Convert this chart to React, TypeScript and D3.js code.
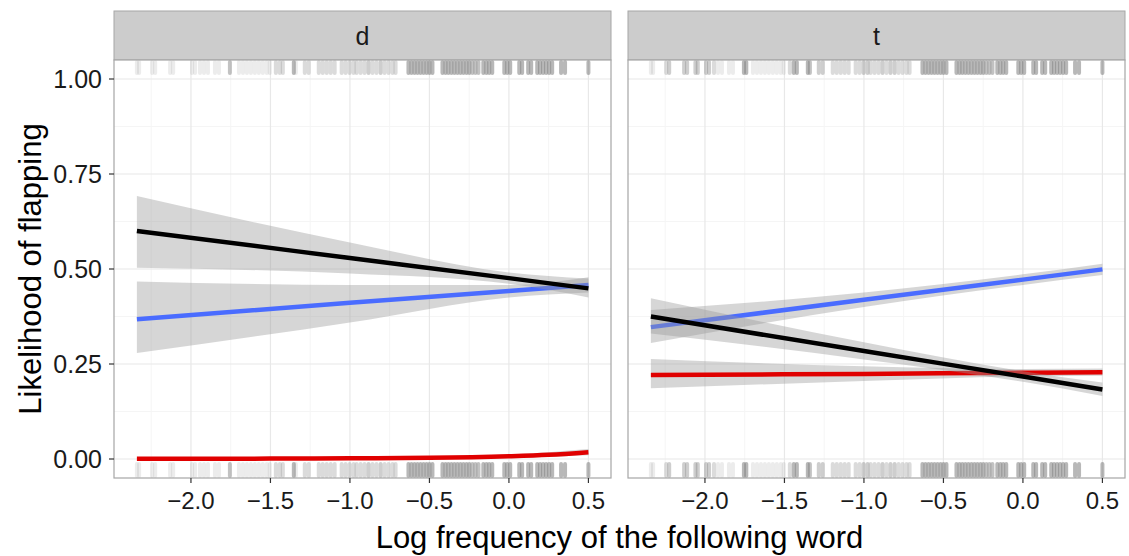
import React from "react";
import * as d3 from "d3";

// Facet panels (following segment)
const facets = ["d", "t"];

// Model predictions sampled along log word frequency
const predX = [-2.34, -1.0, 0.0, 0.5];

const dBlackFit = [0.6, 0.529, 0.476, 0.449];
const dBlackLo = [0.503, 0.488, 0.461, 0.425];
const dBlackHi = [0.692, 0.57, 0.491, 0.475];

const dBlueFit = [0.368, 0.411, 0.442, 0.458];
const dBlueLo = [0.279, 0.359, 0.425, 0.438];
const dBlueHi = [0.467, 0.458, 0.458, 0.478];

const predXRedD = [-2.34, -1.5, -1.0, -0.5, 0.0, 0.25, 0.5];
const dRedFit = [0.0005, 0.001, 0.002, 0.003, 0.007, 0.011, 0.018];
const dRedLo = [0.0, 0.0, 0.001, 0.001, 0.003, 0.006, 0.01];
const dRedHi = [0.002, 0.003, 0.004, 0.006, 0.012, 0.018, 0.026];

const tBlackFit = [0.375, 0.284, 0.217, 0.183];
const tBlackLo = [0.33, 0.262, 0.203, 0.166];
const tBlackHi = [0.423, 0.307, 0.231, 0.201];

const tBlueFit = [0.347, 0.419, 0.472, 0.499];
const tBlueLo = [0.305, 0.4, 0.458, 0.484];
const tBlueHi = [0.392, 0.438, 0.486, 0.514];

const tRedFit = [0.221, 0.224, 0.227, 0.228];
const tRedLo = [0.186, 0.205, 0.217, 0.219];
const tRedHi = [0.263, 0.244, 0.237, 0.238];

// Observed word frequencies (rug) with number of tokens per facet
const rugX = [
  -2.34, -2.326, -2.244, -2.225, -2.131, -2.112, -2.06, -2.045, -1.993, -1.974,
  -1.943, -1.918, -1.893, -1.849, -1.824, -1.755, -1.74, -1.698, -1.673, -1.648,
  -1.623, -1.598, -1.573, -1.548, -1.523, -1.504, -1.466, -1.441, -1.422, -1.353,
  -1.34, -1.284, -1.259, -1.196, -1.171, -1.146, -1.121, -1.096, -1.052, -1.027,
  -1.002, -0.977, -0.958, -0.933, -0.908, -0.883, -0.858, -0.833, -0.807, -0.782,
  -0.757, -0.732, -0.713, -0.632, -0.613, -0.594, -0.575, -0.556, -0.537, -0.518,
  -0.5, -0.481, -0.418, -0.399, -0.381, -0.362, -0.343, -0.324, -0.305, -0.286,
  -0.267, -0.249, -0.23, -0.211, -0.192, -0.161, -0.142, -0.124, -0.105, -0.029,
  -0.011, 0.008, 0.065, 0.083, 0.121, 0.14, 0.178, 0.196, 0.215, 0.234,
  0.253, 0.272, 0.328, 0.353, 0.5,
];
const rugCountD = [
  1, 1, 1, 1, 1, 1, 0, 0, 1, 1,
  1, 1, 1, 1, 1, 4, 0, 1, 1, 1,
  1, 1, 1, 1, 1, 1, 2, 2, 2, 5,
  1, 2, 2, 2, 2, 2, 2, 2, 2, 2,
  2, 2, 2, 2, 2, 3, 2, 2, 3, 2,
  2, 2, 2, 5, 5, 5, 5, 5, 5, 5,
  5, 5, 5, 5, 5, 5, 5, 5, 5, 5,
  5, 5, 4, 4, 4, 5, 5, 5, 5, 5,
  5, 5, 5, 5, 5, 5, 5, 5, 5, 5,
  5, 5, 5, 5, 5,
];
const rugCountT = [
  1, 1, 2, 3, 3, 3, 3, 3, 3, 3,
  2, 1, 1, 1, 1, 5, 5, 1, 1, 1,
  1, 1, 1, 1, 1, 1, 2, 5, 5, 5,
  4, 3, 3, 2, 2, 2, 2, 2, 2, 2,
  3, 3, 2, 2, 2, 3, 2, 3, 3, 2,
  2, 2, 2, 5, 5, 5, 5, 5, 5, 5,
  5, 5, 5, 5, 5, 5, 5, 5, 5, 5,
  5, 5, 4, 4, 4, 5, 5, 5, 5, 5,
  5, 5, 5, 5, 5, 5, 5, 5, 5, 5,
  5, 5, 5, 5, 5,
];

const xTicks = [-2.0, -1.5, -1.0, -0.5, 0.0, 0.5];
const yTicks = [0, 0.25, 0.5, 0.75, 1.0];

const xTitle = "Log frequency of the following word";
const yTitle = "Likelihood of flapping";

const FONT = "'Liberation Sans', Arial, Helvetica, sans-serif";
const W = 1129;
const H = 556;

type Series = { x: number[]; fit: number[]; lo: number[]; hi: number[]; color: string };

const panelSeries: Series[][] = [
  [
    { x: predXRedD, fit: dRedFit, lo: dRedLo, hi: dRedHi, color: "#e00000" },
    { x: predX, fit: dBlueFit, lo: dBlueLo, hi: dBlueHi, color: "#4a6cff" },
    { x: predX, fit: dBlackFit, lo: dBlackLo, hi: dBlackHi, color: "#000000" },
  ],
  [
    { x: predX, fit: tRedFit, lo: tRedLo, hi: tRedHi, color: "#e00000" },
    { x: predX, fit: tBlueFit, lo: tBlueLo, hi: tBlueHi, color: "#4a6cff" },
    { x: predX, fit: tBlackFit, lo: tBlackLo, hi: tBlackHi, color: "#000000" },
  ],
];
const rugCounts = [rugCountD, rugCountT];

const panelLeft = [114, 628];
const panelWidth = 497;
const plotTop = 60;
const plotBottom = 478;
const stripTop = 11;

export default function App() {
  const y = d3.scaleLinear().domain([-0.05, 1.05]).range([plotBottom, plotTop]);
  const yMinor = d3.range(0.125, 1.0, 0.25);
  const xMinor = [-2.25, -1.75, -1.25, -0.75, -0.25, 0.25];
  const fmtY = d3.format(".2f");
  const fmtX = (v: number) => d3.format(".1f")(v).replace("-", "\u2212");
  const rugA = 0.15;

  return (
    <div style={{ position: "absolute", left: 0, top: 0 }}>
      <svg width={W} height={H} style={{ display: "block", background: "#fff" }}>
        {facets.map((f, pi) => {
          const x0 = panelLeft[pi];
          const x = d3.scaleLinear().domain([-2.484, 0.642]).range([x0, x0 + panelWidth]);
          const area = d3.area<number>().curve(d3.curveMonotoneX);
          const line = d3.line<number>().curve(d3.curveMonotoneX);
          return (
            <g key={f}>
              {/* strip */}
              <rect x={x0} y={stripTop} width={panelWidth} height={plotTop - stripTop}
                fill="#cccccc" stroke="#a6a6a6" strokeWidth={1} />
              <text x={x0 + panelWidth / 2} y={(stripTop + plotTop) / 2 + 9} textAnchor="middle"
                fontFamily={FONT} fontSize={25} fill="#1a1a1a">{f}</text>
              {/* panel background and grid */}
              <rect x={x0} y={plotTop} width={panelWidth} height={plotBottom - plotTop} fill="#fff" />
              {xMinor.map((v) => (
                <line key={"xm" + v} x1={x(v)} x2={x(v)} y1={plotTop} y2={plotBottom} stroke="#f5f5f5" strokeWidth={1} />
              ))}
              {yMinor.map((v) => (
                <line key={"ym" + v} x1={x0} x2={x0 + panelWidth} y1={y(v)} y2={y(v)} stroke="#f5f5f5" strokeWidth={1} />
              ))}
              {xTicks.map((v) => (
                <line key={"xg" + v} x1={x(v)} x2={x(v)} y1={plotTop} y2={plotBottom} stroke="#e8e8e8" strokeWidth={1.2} />
              ))}
              {yTicks.map((v) => (
                <line key={"yg" + v} x1={x0} x2={x0 + panelWidth} y1={y(v)} y2={y(v)} stroke="#e8e8e8" strokeWidth={1.2} />
              ))}
              {/* rugs, top and bottom */}
              {rugX.map((v, i) => {
                const n = rugCounts[pi][i];
                if (!n) return null;
                const op = 1 - Math.pow(1 - rugA, n);
                return (
                  <g key={"r" + i} stroke="#7f7f7f" strokeOpacity={op} strokeWidth={4} strokeLinecap="round">
                    <line x1={x(v)} x2={x(v)} y1={plotTop + 2} y2={plotTop + 13} />
                    <line x1={x(v)} x2={x(v)} y1={plotBottom - 2} y2={plotBottom - 14} />
                  </g>
                );
              })}
              {/* smooths: ribbon then line */}
              {panelSeries[pi].map((s, si) => {
                const idx = s.x.map((_, i) => i);
                const ribbon = area
                  .x((i) => x(s.x[i]))
                  .y0((i) => y(s.lo[i]))
                  .y1((i) => y(s.hi[i]))(idx);
                const path = line.x((i) => x(s.x[i])).y((i) => y(s.fit[i]))(idx);
                return (
                  <g key={"s" + si}>
                    <path d={ribbon || ""} fill="#999999" fillOpacity={0.4} stroke="none" />
                    <path d={path || ""} fill="none" stroke={s.color} strokeWidth={4.5} />
                  </g>
                );
              })}
              {/* panel border */}
              <rect x={x0} y={plotTop} width={panelWidth} height={plotBottom - plotTop}
                fill="none" stroke="#a6a6a6" strokeWidth={1.2} />
              {/* x axis */}
              {xTicks.map((v) => (
                <g key={"xt" + v}>
                  <line x1={x(v)} x2={x(v)} y1={plotBottom} y2={plotBottom + 5} stroke="#333" strokeWidth={1.2} />
                  <text x={x(v)} y={plotBottom + 31} textAnchor="middle" fontFamily={FONT} fontSize={24} fill="#1a1a1a">
                    {fmtX(v)}
                  </text>
                </g>
              ))}
            </g>
          );
        })}
        {/* y axis on the first panel */}
        {yTicks.map((v) => (
          <g key={"yt" + v}>
            <line x1={panelLeft[0] - 5} x2={panelLeft[0]} y1={y(v)} y2={y(v)} stroke="#333" strokeWidth={1.2} />
            <text x={panelLeft[0] - 12} y={y(v) + 8.5} textAnchor="end" fontFamily={FONT} fontSize={25} fill="#1a1a1a">
              {fmtY(v)}
            </text>
          </g>
        ))}
        <text x={(panelLeft[0] + panelLeft[1] + panelWidth) / 2} y={548} textAnchor="middle"
          fontFamily={FONT} fontSize={31} fill="#000">{xTitle}</text>
        <text transform={`translate(41,${(plotTop + plotBottom) / 2}) rotate(-90)`} textAnchor="middle"
          fontFamily={FONT} fontSize={31} fill="#000">{yTitle}</text>
      </svg>
    </div>
  );
}
